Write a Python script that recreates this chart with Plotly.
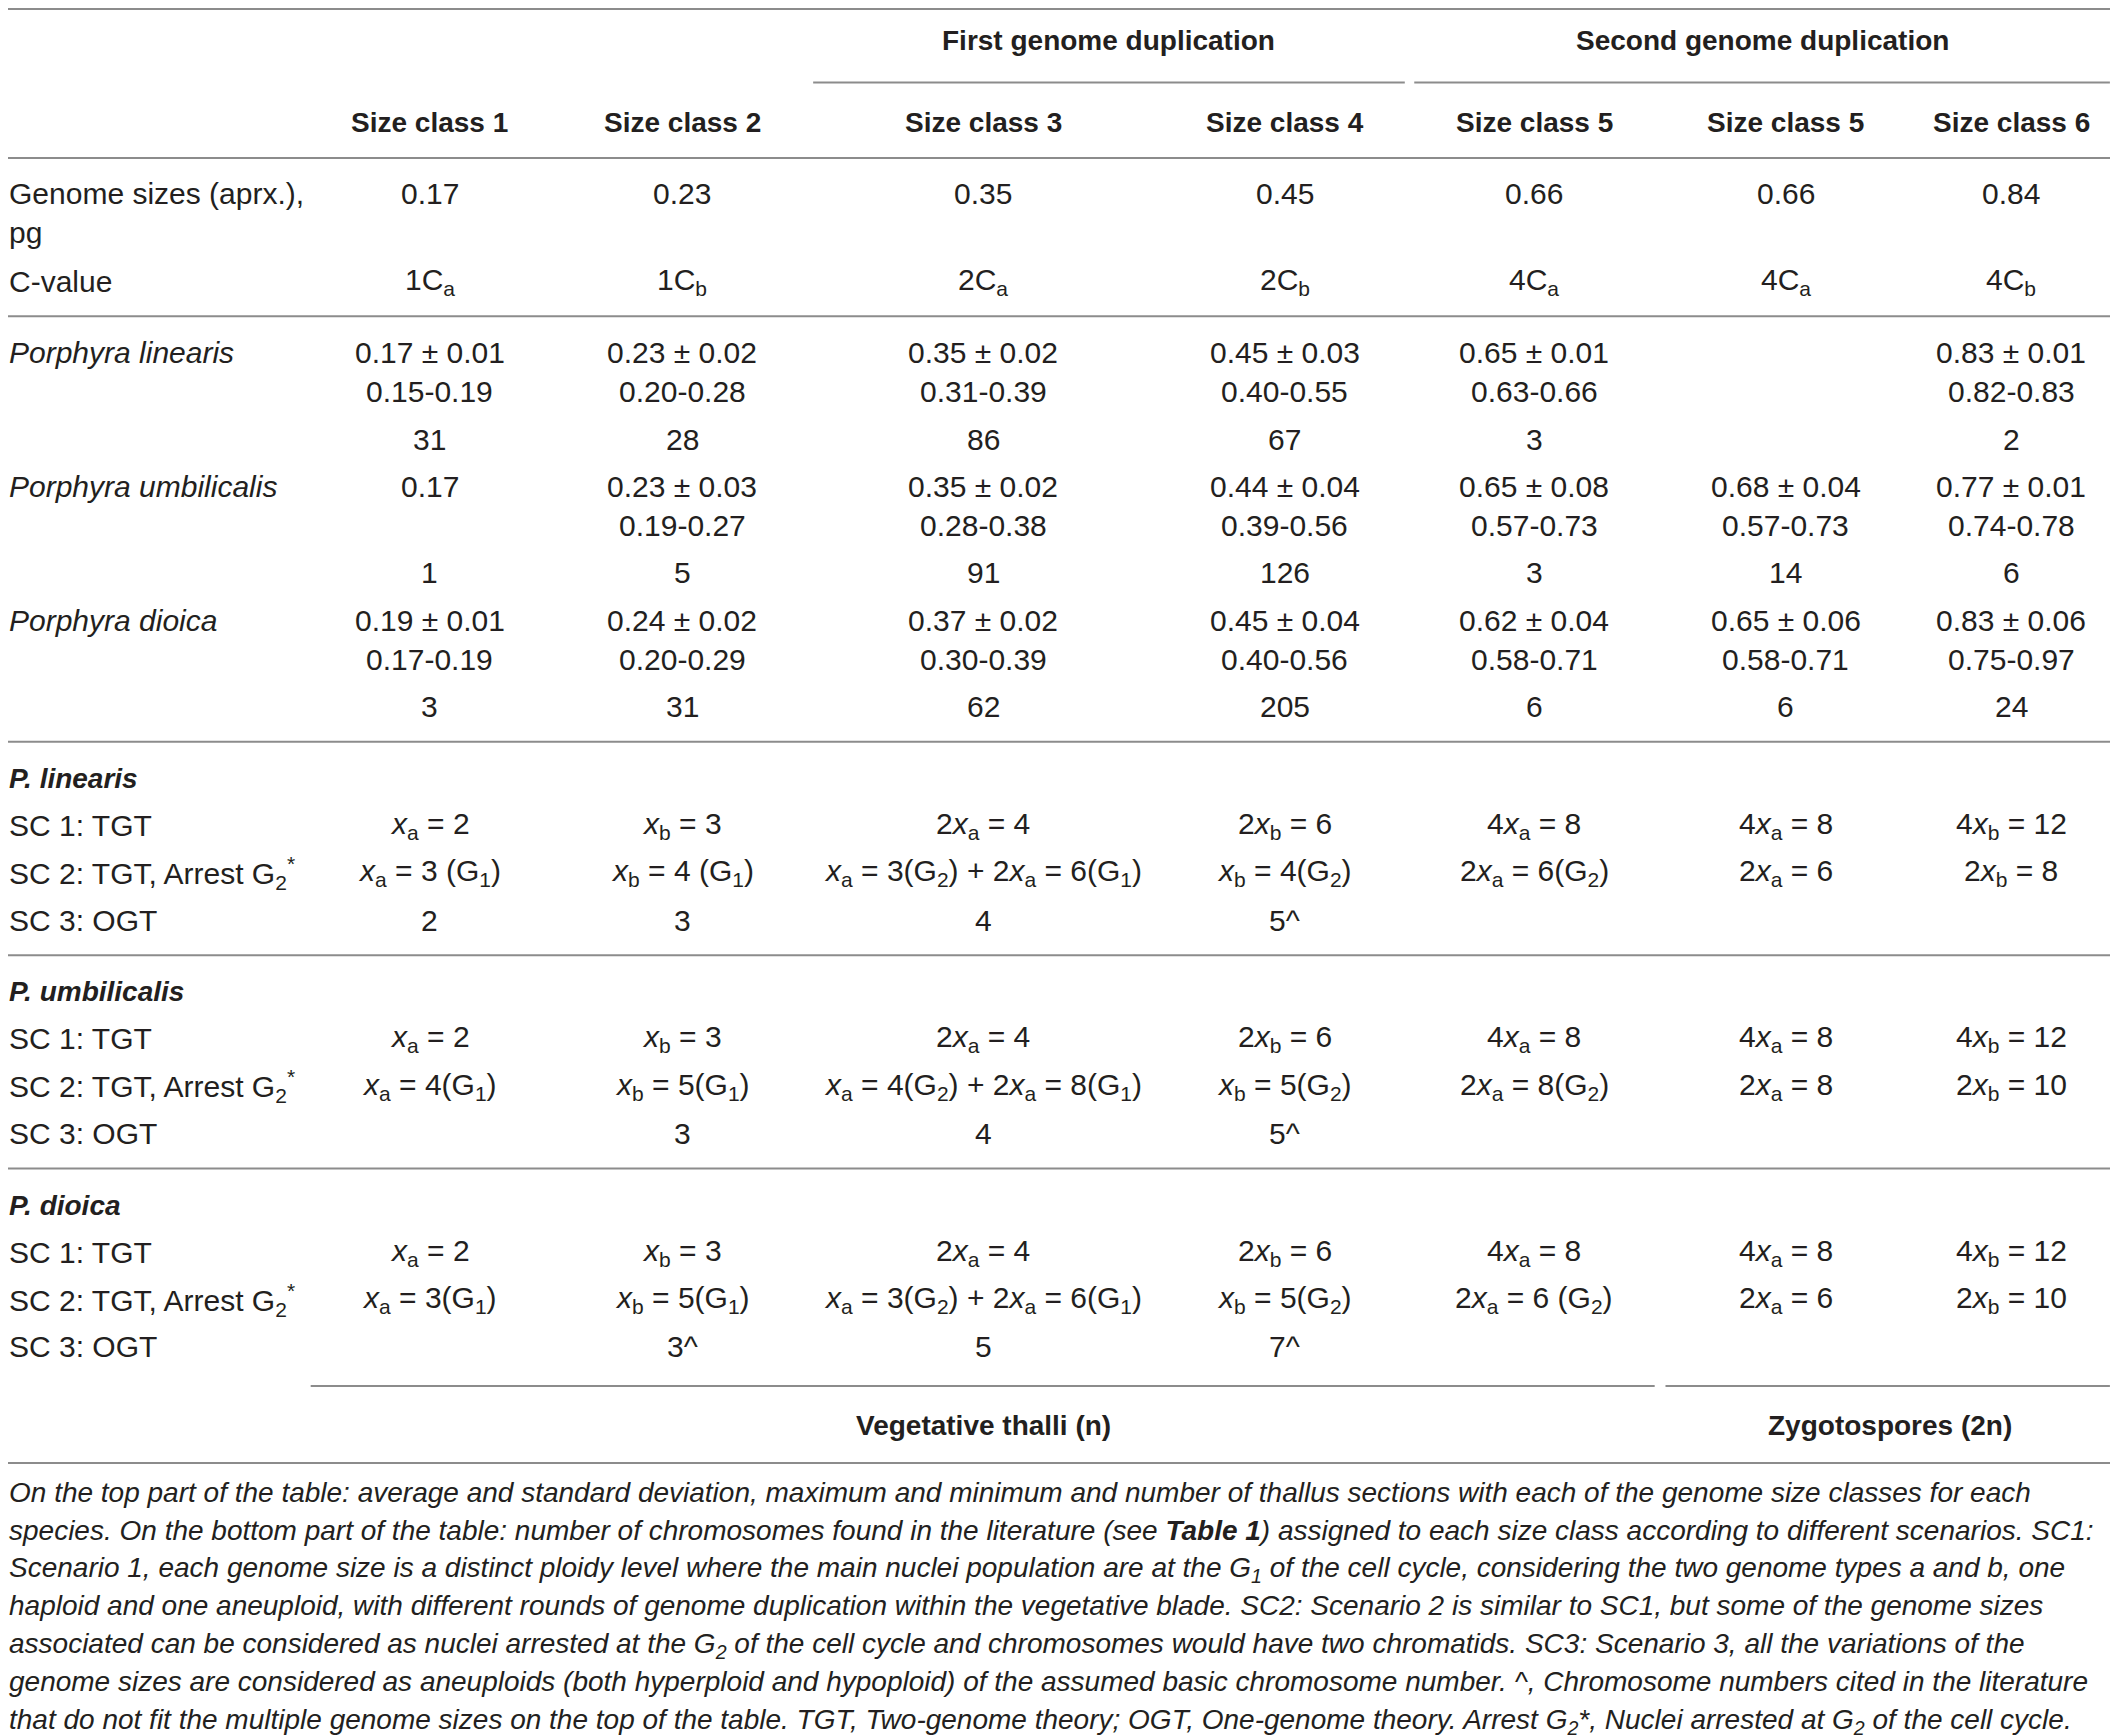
import plotly.graph_objects as go

# ---------------- data ----------------
XA = "<i>x</i><sub>a</sub>"
XB = "<i>x</i><sub>b</sub>"
G1 = "G<sub>1</sub>"
G2 = "G<sub>2</sub>"

group_headers = ["First genome duplication", "Second genome duplication"]
size_classes = ["Size class 1", "Size class 2", "Size class 3", "Size class 4",
                "Size class 5", "Size class 5", "Size class 6"]
genome_sizes = ["0.17", "0.23", "0.35", "0.45", "0.66", "0.66", "0.84"]
c_values = ["1C<sub>a</sub>", "1C<sub>b</sub>", "2C<sub>a</sub>", "2C<sub>b</sub>",
            "4C<sub>a</sub>", "4C<sub>a</sub>", "4C<sub>b</sub>"]

species = ["Porphyra linearis", "Porphyra umbilicalis", "Porphyra dioica"]
linearis_mean = ["0.17 ± 0.01", "0.23 ± 0.02", "0.35 ± 0.02", "0.45 ± 0.03", "0.65 ± 0.01", "", "0.83 ± 0.01"]
linearis_range = ["0.15-0.19", "0.20-0.28", "0.31-0.39", "0.40-0.55", "0.63-0.66", "", "0.82-0.83"]
linearis_n = ["31", "28", "86", "67", "3", "", "2"]
umbilicalis_mean = ["0.17", "0.23 ± 0.03", "0.35 ± 0.02", "0.44 ± 0.04", "0.65 ± 0.08", "0.68 ± 0.04", "0.77 ± 0.01"]
umbilicalis_range = ["", "0.19-0.27", "0.28-0.38", "0.39-0.56", "0.57-0.73", "0.57-0.73", "0.74-0.78"]
umbilicalis_n = ["1", "5", "91", "126", "3", "14", "6"]
dioica_mean = ["0.19 ± 0.01", "0.24 ± 0.02", "0.37 ± 0.02", "0.45 ± 0.04", "0.62 ± 0.04", "0.65 ± 0.06", "0.83 ± 0.06"]
dioica_range = ["0.17-0.19", "0.20-0.29", "0.30-0.39", "0.40-0.56", "0.58-0.71", "0.58-0.71", "0.75-0.97"]
dioica_n = ["3", "31", "62", "205", "6", "6", "24"]

scenario_groups = ["P. linearis", "P. umbilicalis", "P. dioica"]
scenario_labels = ["SC 1: TGT", "SC 2: TGT, Arrest G<sub>2</sub><sup>*</sup>", "SC 3: OGT"]

linearis_sc1 = [f"{XA} = 2", f"{XB} = 3", f"2{XA} = 4", f"2{XB} = 6", f"4{XA} = 8", f"4{XA} = 8", f"4{XB} = 12"]
linearis_sc2 = [f"{XA} = 3 ({G1})", f"{XB} = 4 ({G1})", f"{XA} = 3({G2}) + 2{XA} = 6({G1})",
                f"{XB} = 4({G2})", f"2{XA} = 6({G2})", f"2{XA} = 6", f"2{XB} = 8"]
linearis_sc3 = ["2", "3", "4", "5^", "", "", ""]

umbilicalis_sc1 = [f"{XA} = 2", f"{XB} = 3", f"2{XA} = 4", f"2{XB} = 6", f"4{XA} = 8", f"4{XA} = 8", f"4{XB} = 12"]
umbilicalis_sc2 = [f"{XA} = 4({G1})", f"{XB} = 5({G1})", f"{XA} = 4({G2}) + 2{XA} = 8({G1})",
                   f"{XB} = 5({G2})", f"2{XA} = 8({G2})", f"2{XA} = 8", f"2{XB} = 10"]
umbilicalis_sc3 = ["", "3", "4", "5^", "", "", ""]

dioica_sc1 = [f"{XA} = 2", f"{XB} = 3", f"2{XA} = 4", f"2{XB} = 6", f"4{XA} = 8", f"4{XA} = 8", f"4{XB} = 12"]
dioica_sc2 = [f"{XA} = 3({G1})", f"{XB} = 5({G1})", f"{XA} = 3({G2}) + 2{XA} = 6({G1})",
              f"{XB} = 5({G2})", f"2{XA} = 6 ({G2})", f"2{XA} = 6", f"2{XB} = 10"]
dioica_sc3 = ["", "3^", "5", "7^", "", "", ""]

footer_groups = ["Vegetative thalli (n)", "Zygotospores (2n)"]

caption_lines = [
    "On the top part of the table: average and standard deviation, maximum and minimum and number of thallus sections with each of the genome size classes for each",
    "species. On the bottom part of the table: number of chromosomes found in the literature (see <b>Table 1</b>) assigned to each size class according to different scenarios. SC1:",
    "Scenario 1, each genome size is a distinct ploidy level where the main nuclei population are at the G<sub>1</sub> of the cell cycle, considering the two genome types a and b, one",
    "haploid and one aneuploid, with different rounds of genome duplication within the vegetative blade. SC2: Scenario 2 is similar to SC1, but some of the genome sizes",
    "associated can be considered as nuclei arrested at the G<sub>2</sub> of the cell cycle and chromosomes would have two chromatids. SC3: Scenario 3, all the variations of the",
    "genome sizes are considered as aneuploids (both hyperploid and hypoploid) of the assumed basic chromosome number. ^, Chromosome numbers cited in the literature",
    "that do not fit the multiple genome sizes on the top of the table. TGT, Two-genome theory; OGT, One-genome theory. Arrest G<sub>2</sub>*, Nuclei arrested at G<sub>2</sub> of the cell cycle.",
]

# ---------------- layout (reference coords: 1568 x 1285 grid) ----------------
FONT = "Liberation Sans, Arial, sans-serif"
TXT = "#231f20"
LINE = "#8c8c8c"
FS = 30
FS_HEAD = 28
FS_CAP = 28
COLS = [318, 505, 728, 951, 1136, 1322, 1489]
LABEL_X = 5
SCALE = 2118 / 1568
SHIFT_PX = 8                      # page body margin, in screen pixels
OFF = SHIFT_PX / SCALE            # same, in grid units

ann = []
shapes = []


def text(x, y, s, size=FS, anchor="center", top=False):
    if top:
        # anchor on the top of the text box so subscripts do not move the baseline
        y = y - (size * 0.6) / SCALE
    ann.append(dict(x=x, y=y, xref="x", yref="y", text=s, showarrow=False,
                    xanchor=anchor, yanchor="top" if top else "middle",
                    xshift=-SHIFT_PX, yshift=SHIFT_PX,
                    font=dict(family=FONT, size=size, color=TXT)))


def hline(x0, x1, y):
    yy = max(y - OFF, 0.8)
    shapes.append(dict(type="line", xref="x", yref="y",
                       x0=max(x0 - OFF, 0), x1=x1 - OFF, y0=yy, y1=yy,
                       line=dict(color=LINE, width=2)))


def row(y, values, size=FS):
    for x, v in zip(COLS, values):
        if v:
            text(x, y, v, size=size)


# top rules and group headers
hline(3, 1565, 4)
text(821, 30, f"<b>{group_headers[0]}</b>", size=FS_HEAD)
text(1305, 30, f"<b>{group_headers[1]}</b>", size=FS_HEAD)
hline(602, 1040, 61)
hline(1047, 1562, 61)
row(91, [f"<b>{s}</b>" for s in size_classes], size=FS_HEAD)
hline(3, 1565, 117)

text(LABEL_X, 143, "Genome sizes (aprx.),", anchor="left")
text(LABEL_X, 172, "pg", anchor="left")
row(143, genome_sizes)
text(LABEL_X, 208, "C-value", anchor="left")
row(208, c_values)
hline(3, 1565, 234)

sp_blocks = [
    (linearis_mean, linearis_range, linearis_n),
    (umbilicalis_mean, umbilicalis_range, umbilicalis_n),
    (dioica_mean, dioica_range, dioica_n),
]
sp_y = [261, 360, 459]
for name, (m, r, n), y in zip(species, sp_blocks, sp_y):
    text(LABEL_X, y, f"<i>{name}</i>", anchor="left")
    row(y, m)
    row(y + 29, r)
    row(y + 64, n)
hline(3, 1565, 549)

sc_blocks = [
    (linearis_sc1, linearis_sc2, linearis_sc3),
    (umbilicalis_sc1, umbilicalis_sc2, umbilicalis_sc3),
    (dioica_sc1, dioica_sc2, dioica_sc3),
]
sc_y = [576, 734, 892]
for gi, (g, rows, y) in enumerate(zip(scenario_groups, sc_blocks, sc_y)):
    text(LABEL_X, y, f"<b><i>{g}</i></b>", anchor="left", size=FS_HEAD)
    for k, (lab, vals) in enumerate(zip(scenario_labels, rows)):
        yy = y + 35 + k * 35
        text(LABEL_X, yy, lab, anchor="left")
        row(yy, vals)
    if gi < 2:
        hline(3, 1565, y + 131)

hline(230, 1225, 1026)
hline(1233, 1562, 1026)
text(728, 1055, f"<b>{footer_groups[0]}</b>", size=FS_HEAD)
text(1399, 1055, f"<b>{footer_groups[1]}</b>", size=FS_HEAD)
hline(3, 1565, 1083)

for i, line in enumerate(caption_lines):
    text(LABEL_X, 1104 + i * 28, f"<i>{line}</i>", size=FS_CAP, anchor="left", top=True)

fig = go.Figure()
fig.update_layout(
    width=2118, height=1736,
    margin=dict(l=0, r=0, t=0, b=0),
    paper_bgcolor="white", plot_bgcolor="white",
    xaxis=dict(range=[0, 1568], visible=False, fixedrange=True),
    yaxis=dict(range=[1285, 0], visible=False, fixedrange=True),
    annotations=ann, shapes=shapes, showlegend=False,
)
fig.write_html("out.html")
